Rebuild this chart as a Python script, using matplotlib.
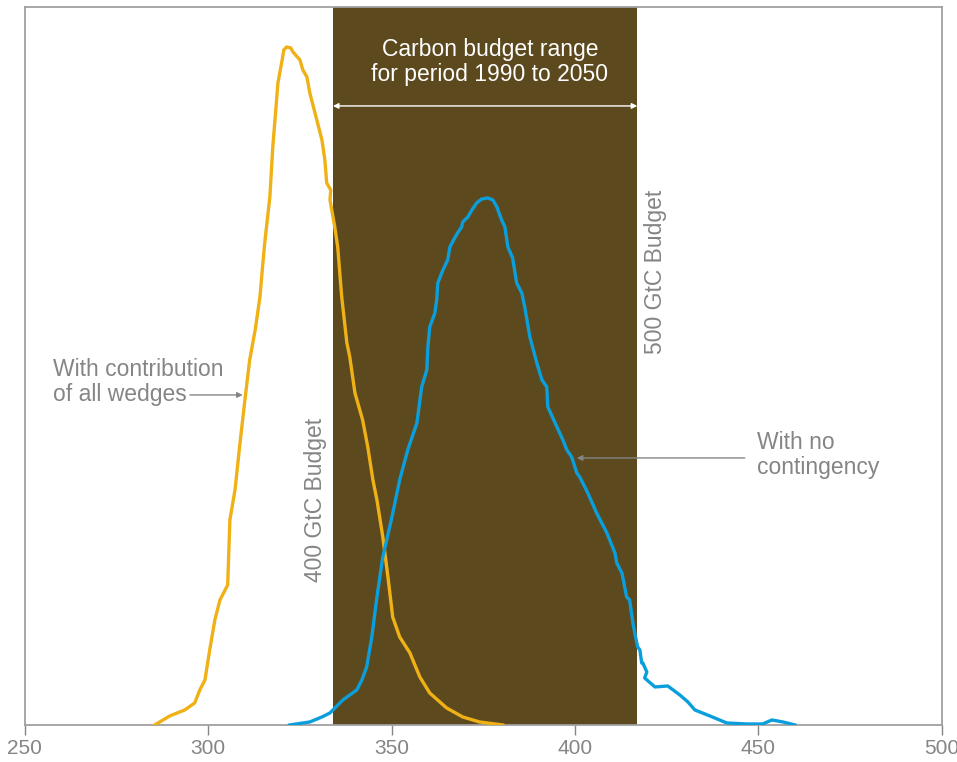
"""Carbon budget distributions, 1990 to 2050."""

import matplotlib.pyplot as plt

# cumulative emissions (GtC) and relative frequency
wedges_x = [285.4, 289.5, 293.6, 296.3, 297.7, 299.1, 300.4, 301.8, 303.2, 305.3,
            305.9, 307.3, 308.6, 310.0, 311.3, 312.8, 314.1, 314.9, 315.4, 316.8,
            317.6, 318.7, 319.0, 320.3, 320.6, 321.4, 322.5, 323.1, 325.0, 325.8,
            326.9, 327.7, 329.6, 331.0, 331.8, 332.3, 333.4, 333.2, 334.5, 335.3,
            336.4, 337.8, 338.6, 340.0, 342.1, 343.5, 344.9, 346.0, 347.6, 349.0,
            350.3, 352.2, 355.0, 357.7, 360.4, 365.0, 369.4, 374.0, 380.3]
wedges_y = [0, 9, 15, 22, 35, 45, 75, 105, 125, 140,
            205, 235, 280, 325, 365, 395, 428, 462, 482, 528,
            578, 628, 642, 668, 675, 678, 677, 673, 665, 655,
            648, 632, 605, 585, 565, 542, 535, 525, 498, 478,
            428, 382, 368, 332, 305, 278, 245, 225, 188, 148,
            108, 88, 72, 48, 32, 17, 8, 3, 0]

nocont_x = [322.2, 327.7, 331.0, 333.2, 336.7, 340.5, 341.9, 343.2, 344.6, 346.0,
            347.6, 350.1, 352.2, 354.4, 356.9, 358.2, 359.6, 359.9, 360.4, 361.8,
            362.3, 362.6, 364.0, 365.3, 365.9, 367.2, 368.0, 369.1, 369.4, 370.8,
            371.9, 373.2, 374.6, 376.2, 377.6, 378.7, 380.0, 380.9, 381.7, 383.0,
            384.1, 385.5, 386.3, 387.7, 389.6, 391.0, 392.3, 392.6, 396.7, 397.8,
            399.1, 400.5, 401.3, 403.5, 405.9, 408.7, 410.9, 411.4, 412.8, 414.1,
            414.9, 415.8, 416.3, 417.1, 417.7, 418.2, 418.5, 419.6, 419.0, 421.8,
            425.3, 428.6, 430.8, 432.7, 436.8, 441.4, 446.8, 451.2, 453.7, 456.7,
            460.0]
nocont_y = [0, 3, 8, 12, 25, 35, 45, 58, 88, 128,
            168, 208, 245, 275, 302, 338, 355, 378, 398, 412,
            425, 442, 455, 465, 478, 487, 492, 498, 503, 508,
            515, 522, 526, 527, 525, 518, 505, 498, 478, 467,
            442, 432, 418, 388, 362, 345, 338, 318, 285, 275,
            268, 252, 248, 232, 212, 192, 172, 162, 152, 128,
            125, 102, 92, 78, 75, 62, 62, 53, 47, 38,
            39, 30, 23, 15, 9, 2, 1, 1, 5, 3,
            0]

budget_range = [334, 417]
xticks = [250, 300, 350, 400, 450, 500]

GREY = "#858585"
FS = 16.5
plt.rcParams["font.family"] = ["Liberation Sans", "DejaVu Sans"]

fig = plt.figure(figsize=(9.57, 7.62), dpi=100)
ax = fig.add_axes([0.026, 0.0486, 0.958, 0.9423])

ax.axvspan(budget_range[0], budget_range[1], color="#5c4a1e", lw=0, zorder=1)
ax.plot(wedges_x, wedges_y, color="#efb115", lw=2.4, zorder=3)
ax.plot(nocont_x, nocont_y, color="#0a9fdc", lw=2.4, zorder=3)

ax.set_xlim(250, 500)
ax.set_ylim(0, 718)
ax.set_xticks(xticks)
ax.set_yticks([])
ax.tick_params(axis="x", colors=GREY, length=7, width=1, pad=3, labelsize=15)
for side in ax.spines.values():
    side.set_color("#a0a0a0")
    side.set_linewidth(1.3)

# budget range
ax.annotate("", xy=(budget_range[0], 619), xytext=(budget_range[1], 619),
            arrowprops=dict(arrowstyle="<|-|>", color="white", lw=1,
                            mutation_scale=8, shrinkA=0, shrinkB=0), zorder=4)
ax.text(376.8, 663, "Carbon budget range\nfor period 1990 to 2050", color="white",
        fontsize=FS, ha="center", va="center", linespacing=1.1, zorder=4)
ax.text(329.3, 225, "400 GtC Budget", color=GREY, fontsize=FS, rotation=90,
        ha="center", va="center", zorder=4)
ax.text(422.0, 453, "500 GtC Budget", color=GREY, fontsize=FS, rotation=90,
        ha="center", va="center", zorder=4)

# curve labels
ax.text(257.6, 343, "With contribution\nof all wedges", color=GREY, fontsize=FS,
        ha="left", va="center", linespacing=1.1)
ax.annotate("", xy=(309.4, 330), xytext=(295.0, 330),
            arrowprops=dict(arrowstyle="-|>", color=GREY, lw=1,
                            mutation_scale=8, shrinkA=0, shrinkB=0))
ax.text(449.6, 270, "With no\ncontingency", color=GREY, fontsize=FS,
        ha="left", va="center", linespacing=1.1)
ax.annotate("", xy=(400.5, 267), xytext=(446.3, 267),
            arrowprops=dict(arrowstyle="-|>", color=GREY, lw=1,
                            mutation_scale=8, shrinkA=0, shrinkB=0))

fig.savefig("out.png", dpi=100)
